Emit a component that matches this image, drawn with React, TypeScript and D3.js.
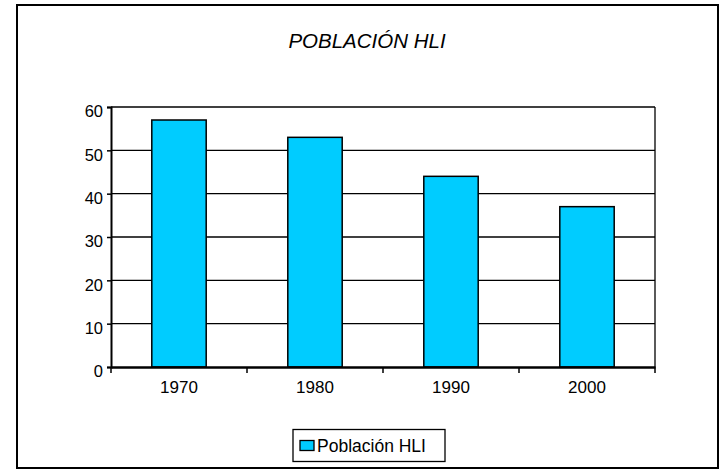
import React, { useRef, useEffect } from 'react';
import * as d3 from 'd3';

const years = ['1970', '1980', '1990', '2000'];
const values = [57, 53, 44, 37];
const yTicks = [0, 10, 20, 30, 40, 50, 60];
const title = 'POBLACIÓN HLI';
const seriesName = 'Población HLI';

const W = 720;
const H = 474;
const plot = { left: 111, right: 655, top: 107, bottom: 367 };
const font = '"Liberation Sans", Arial, sans-serif';

export default function App() {
  const svgRef = useRef<SVGSVGElement>(null);

  useEffect(() => {
    const svg = d3.select(svgRef.current);
    svg.selectAll('*').remove();

    const x = d3.scaleBand().domain(years).range([plot.left, plot.right]).paddingInner(0.6).paddingOuter(0.3);
    const band = d3.scaleBand().domain(years).range([plot.left, plot.right]);
    const y = d3.scaleLinear().domain([0, 60]).range([plot.bottom, plot.top]);

    // outer frame
    svg.append('rect')
      .attr('x', 17).attr('y', 5).attr('width', 701).attr('height', 463)
      .attr('fill', 'white').attr('stroke', 'black').attr('stroke-width', 2);

    svg.append('text')
      .attr('x', 367).attr('y', 48)
      .attr('text-anchor', 'middle')
      .attr('font-family', font).attr('font-size', 20.5).attr('font-style', 'italic')
      .text(title);

    // gridlines
    svg.append('g').selectAll('line')
      .data(yTicks.filter(t => t > 0))
      .join('line')
      .attr('x1', plot.left).attr('x2', plot.right)
      .attr('y1', d => y(d)).attr('y2', d => y(d))
      .attr('stroke', 'black').attr('stroke-width', 1.3);

    // right border of plot
    svg.append('line')
      .attr('x1', plot.right).attr('x2', plot.right)
      .attr('y1', plot.top).attr('y2', plot.bottom)
      .attr('stroke', 'black').attr('stroke-width', 1.3);

    // bars
    svg.append('g').selectAll('rect')
      .data(values)
      .join('rect')
      .attr('x', (d, i) => x(years[i])!)
      .attr('width', x.bandwidth())
      .attr('y', d => y(d))
      .attr('height', d => y(0) - y(d))
      .attr('fill', '#00CCFF')
      .attr('stroke', 'black').attr('stroke-width', 1.5);

    // y axis
    const yAxis = svg.append('g')
      .attr('transform', `translate(${plot.left},0)`)
      .call(d3.axisLeft(y).tickValues(yTicks).tickSize(4).tickPadding(4));
    yAxis.select('.domain').attr('stroke-width', 2);
    yAxis.selectAll('.tick line').attr('stroke-width', 1.5);
    yAxis.selectAll('text')
      .attr('font-family', font).attr('font-size', 16.5).attr('fill', 'black')
      .attr('dy', '0.6em');

    // x axis
    const xAxis = svg.append('g')
      .attr('transform', `translate(0,${plot.bottom})`)
      .call(d3.axisBottom(band).tickSize(0).tickPadding(14));
    xAxis.select('.domain').attr('stroke-width', 2.5);
    xAxis.selectAll('text').attr('font-family', font).attr('font-size', 17).attr('fill', 'black');
    xAxis.append('g').selectAll('line')
      .data(d3.range(years.length + 1))
      .join('line')
      .attr('x1', i => plot.left + i * band.bandwidth())
      .attr('x2', i => plot.left + i * band.bandwidth())
      .attr('y1', 0).attr('y2', 6)
      .attr('stroke', 'black').attr('stroke-width', 1.5);

    // legend
    const lg = svg.append('g');
    lg.append('rect')
      .attr('x', 293).attr('y', 429.5).attr('width', 152).attr('height', 32)
      .attr('fill', 'white').attr('stroke', 'black').attr('stroke-width', 1.3);
    lg.append('rect')
      .attr('x', 300).attr('y', 440.5).attr('width', 14).attr('height', 10)
      .attr('fill', '#00CCFF').attr('stroke', 'black').attr('stroke-width', 1.3);
    lg.append('text')
      .attr('x', 317).attr('y', 452)
      .attr('font-family', font).attr('font-size', 17.5)
      .text(seriesName);
  }, []);

  return (
    <svg ref={svgRef} width={W} height={H} style={{ position: 'absolute', left: 0, top: 0 }} />
  );
}
